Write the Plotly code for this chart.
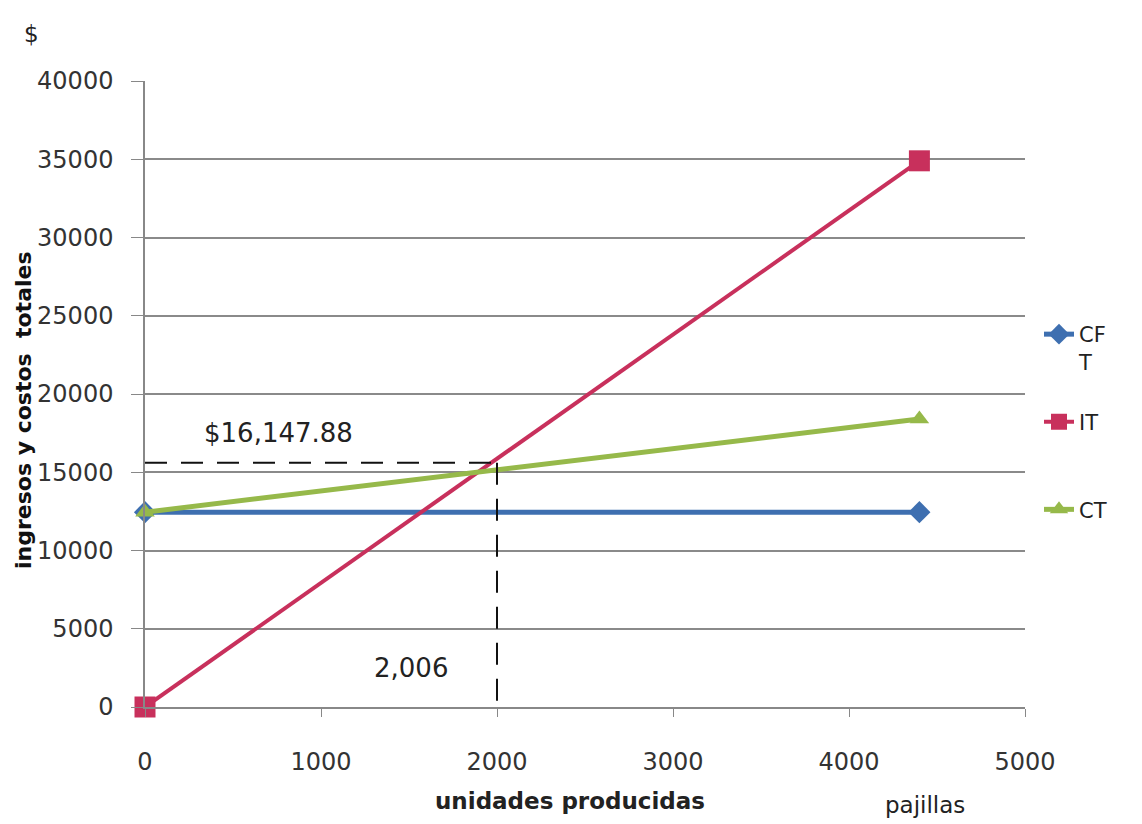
import plotly.graph_objects as go

# ---- data ----
units = [0, 4400]
cf_values = [12450, 12450]      # CFT (costo fijo total)
it_values = [0, 34900]          # IT (ingreso total)
ct_values = [12450, 18400]      # CT (costo total)

x_ticks = [0, 1000, 2000, 3000, 4000, 5000]
y_ticks = [0, 5000, 10000, 15000, 20000, 25000, 30000, 35000, 40000]

break_even_units = 2000
break_even_amount = 15600
break_even_units_label = "2,006"
break_even_amount_label = "$16,147.88"

FONT = "DejaVu Sans"
BLUE = "#3E6FB0"
RED = "#C8305C"
GREEN = "#96B94A"

# page body has an 8px margin: work in figure pixels
OFF = 8
W, H = 1142 - OFF, 824 - OFF
L, R, T, B = 145 - OFF, 1025 - OFF, 81 - OFF, 707 - OFF


def px(x, y):
    """screen pixel -> paper coordinates"""
    return (x - OFF - L) / (R - L), (B - (y - OFF)) / (B - T)


fig = go.Figure()

fig.add_trace(go.Scatter(
    x=units, y=cf_values, name="CF<br>T", mode="lines+markers",
    line=dict(color=BLUE, width=5), cliponaxis=False,
    marker=dict(symbol="diamond", size=17, color=BLUE),
    legendgroup="a"))
fig.add_trace(go.Scatter(
    x=units, y=it_values, name="IT<br> ", mode="lines+markers",
    line=dict(color=RED, width=4), cliponaxis=False,
    marker=dict(symbol="square", size=21, color=RED),
    legendgroup="b"))
fig.add_trace(go.Scatter(
    x=units, y=ct_values, name="CT", mode="lines+markers",
    line=dict(color=GREEN, width=5), cliponaxis=False,
    marker=dict(symbol="triangle-up", size=17, color=GREEN),
    legendgroup="c"))

# break-even dashed guides
fig.add_shape(type="line", xref="x", yref="y",
              x0=0, x1=break_even_units, y0=break_even_amount, y1=break_even_amount,
              line=dict(color="#111111", width=2, dash="22px,14px"))
fig.add_shape(type="line", xref="x", yref="y",
              x0=break_even_units, x1=break_even_units, y0=break_even_amount, y1=0,
              line=dict(color="#111111", width=2, dash="22px,14px"))

fig.add_annotation(x=760, y=17500, xref="x", yref="y", text=break_even_amount_label,
                   xanchor="center", yanchor="middle",
                   showarrow=False, font=dict(family=FONT, size=26, color="#222222"))
fig.add_annotation(x=1510, y=2500, xref="x", yref="y", text=break_even_units_label,
                   xanchor="center", yanchor="middle",
                   showarrow=False, font=dict(family=FONT, size=26, color="#222222"))


def free_text(x, y, text, size, angle=0, color="#222222"):
    ax, ay = px(x, y)
    fig.add_annotation(x=ax, y=ay, xref="paper", yref="paper", text=text,
                       xanchor="center", yanchor="middle", textangle=angle,
                       showarrow=False, font=dict(family=FONT, size=size, color=color))


free_text(31, 34, "$", 23)
free_text(23, 410, "<b>ingresos y costos  totales</b>", 22, angle=-90, color="#111111")
free_text(570, 801, "<b>unidades producidas</b>", 23)
free_text(925, 805, "pajillas", 23)

lx, ly = px(1039, 314)
fig.update_layout(
    width=W, height=H,
    margin=dict(l=L, r=W - R, t=T, b=H - B, pad=0),
    paper_bgcolor="white", plot_bgcolor="white",
    font=dict(family=FONT, size=22, color="#333333"),
    showlegend=True,
    legend=dict(x=lx, xanchor="left", y=ly, yanchor="top",
                valign="top", tracegroupgap=30,
                bgcolor="rgba(0,0,0,0)",
                font=dict(family=FONT, size=21, color="#222222")),
)

fig.update_xaxes(range=[0, 5000], tickvals=x_ticks, ticktext=[str(v) for v in x_ticks],
                 showgrid=False, zeroline=False, automargin=False,
                 showline=True, linecolor="#888888", linewidth=1.5,
                 ticks="outside", ticklen=8, tickcolor="#888888",
                 ticklabelstandoff=24,
                 tickfont=dict(family=FONT, size=24, color="#333333"))
fig.update_yaxes(range=[0, 40000], tickvals=y_ticks, ticktext=[str(v) for v in y_ticks],
                 showgrid=True, gridcolor="#8a8a8a", gridwidth=1.5, zeroline=False,
                 automargin=False,
                 showline=True, linecolor="#888888", linewidth=1.5,
                 ticks="outside", ticklen=12, tickcolor="#888888",
                 ticklabelstandoff=13,
                 tickfont=dict(family=FONT, size=24, color="#333333"))

fig.write_html("out.html")
